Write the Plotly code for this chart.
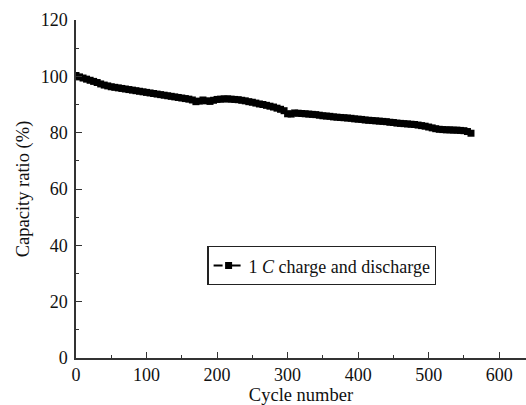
import plotly.graph_objects as go

cycles = list(range(0, 561, 5))
capacity = [
    100.3, 99.8, 99.4, 99.0, 98.6, 98.2, 97.8, 97.3, 96.9, 96.6,
    96.3, 96.1, 95.9, 95.7, 95.5, 95.3, 95.1, 94.9, 94.7, 94.5,
    94.3, 94.1, 93.9, 93.7, 93.5, 93.3, 93.1, 92.9, 92.7, 92.5,
    92.3, 92.1, 91.9, 91.6, 91.0, 91.2, 91.6, 91.3, 91.1, 91.5,
    91.8, 91.9, 92.0, 92.0, 91.9, 91.8, 91.7, 91.5, 91.3, 91.0,
    90.8, 90.5, 90.2, 90.0, 89.7, 89.4, 89.1, 88.7, 88.3, 87.8,
    86.7, 86.6, 87.0, 86.9, 86.8, 86.7, 86.6, 86.5, 86.4, 86.2,
    86.0, 85.9, 85.8, 85.6, 85.5, 85.4, 85.3, 85.2, 85.1, 84.9,
    84.8, 84.7, 84.5, 84.4, 84.3, 84.2, 84.1, 84.0, 83.9, 83.7,
    83.6, 83.4, 83.3, 83.2, 83.1, 83.0, 82.9, 82.7, 82.5, 82.3,
    82.0, 81.7, 81.4, 81.2, 81.1, 81.0, 81.0, 80.9, 80.9, 80.8,
    80.7, 80.4, 79.8,
]
series_name = "1 <i>C</i> charge and discharge"
x_ticks = [0, 100, 200, 300, 400, 500, 600]
y_ticks = [0, 20, 40, 60, 80, 100, 120]

font_family = "Liberation Serif, Times New Roman, serif"

fig = go.Figure()
fig.add_trace(go.Scatter(
    x=cycles, y=capacity, mode="lines+markers", name=series_name,
    line=dict(color="black", width=2, dash="dash"),
    marker=dict(symbol="square", size=7, color="black"),
))

axis_common = dict(
    showline=True, linecolor="#333333", linewidth=1.5,
    ticks="inside", ticklen=6, tickwidth=1.2, tickcolor="#333333",
    showgrid=False, zeroline=False, mirror=False,
    tickfont=dict(family=font_family, size=18, color="#111111"),
)

fig.update_layout(
    width=526, height=405,
    margin=dict(l=76, r=0, t=20, b=47),
    paper_bgcolor="white", plot_bgcolor="white",
    font=dict(family=font_family, size=18, color="#111111"),
    showlegend=True,
    legend=dict(
        x=0.292, y=0.331, xanchor="left", yanchor="top",
        bordercolor="#222222", borderwidth=1.2, bgcolor="white",
        font=dict(family=font_family, size=18, color="#111111"),
        itemwidth=30, tracegroupgap=0,
    ),
    xaxis=dict(
        range=[0, 638], tickvals=x_ticks,
        title=dict(text="Cycle number", font=dict(family=font_family, size=18.5), standoff=4),
        minor=dict(ticks="inside", ticklen=3, dtick=50, tickcolor="#333333"),
        **axis_common,
    ),
    yaxis=dict(
        range=[0, 120], tickvals=y_ticks, ticklabelstandoff=3,
        title=dict(text="Capacity ratio (%)", font=dict(family=font_family, size=18.5), standoff=6),
        minor=dict(ticks="inside", ticklen=3, dtick=10, tickcolor="#333333"),
        **axis_common,
    ),
)

fig.write_html("out.html")
